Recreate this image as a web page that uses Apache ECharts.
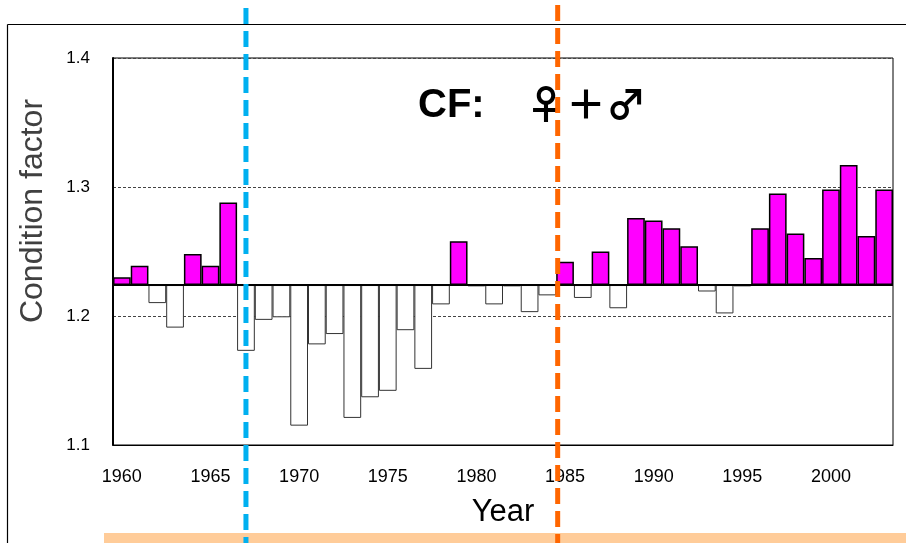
<!DOCTYPE html>
<html><head><meta charset="utf-8">
<script src="https://cdn.jsdelivr.net/npm/echarts@6/dist/echarts.min.js"></script>
<style>html,body{margin:0;padding:0;background:#fff}#c{width:906px;height:543px}</style>
</head><body><div id="c"></div>
<script>
const years = ['1960','1961','1962','1963','1964','1965','1966','1967','1968','1969',
  '1970','1971','1972','1973','1974','1975','1976','1977','1978','1979',
  '1980','1981','1982','1983','1984','1985','1986','1987','1988','1989',
  '1990','1991','1992','1993','1994','1995','1996','1997','1998','1999',
  '2000','2001','2002','2003'];
const conditionFactor = [1.230,1.239,1.210,1.191,1.248,1.239,1.288,1.173,1.197,1.199,
  1.115,1.178,1.186,1.121,1.137,1.142,1.189,1.159,1.209,1.258,
  1.223,1.209,1.223,1.203,1.216,1.242,1.214,1.250,1.206,1.276,
  1.274,1.268,1.254,1.219,1.202,1.223,1.268,1.295,1.264,1.245,
  1.298,1.317,1.262,1.298];
const baseline = 1.224;
const yTickValues = [1.1, 1.2, 1.3, 1.4];
const xTickLabels = ['1960','1965','1970','1975','1980','1985','1990','1995','2000'];
const blueMarkYear = '1967';
const orangeMarkYears = ['1984','1985'];

const baseData = conditionFactor.map(v => Math.min(v, baseline));
const deltaData = conditionFactor.map(v => {
  const pos = v >= baseline;
  return {
    value: Math.abs(v - baseline),
    itemStyle: pos
      ? {color: '#FF00FF', borderColor: '#000', borderWidth: 1.5}
      : {color: '#FFFFFF', borderColor: '#333', borderWidth: 1}
  };
});

const chart = echarts.init(document.getElementById('c'), null, {renderer: 'canvas'});
const FONT = "'Liberation Sans', Arial, sans-serif";
chart.setOption({
  animation: false,
  backgroundColor: '#fff',
  grid: {left: 113, right: 13, top: 58, bottom: 98, show: true, borderColor: '#000', borderWidth: 1, backgroundColor: 'transparent'},
  xAxis: {
    type: 'category', data: years, boundaryGap: true,
    axisLine: {show: true, lineStyle: {color: '#000', width: 1}},
    axisTick: {show: false},
    axisLabel: {
      interval: 0, margin: 23, color: '#000', fontFamily: FONT, fontSize: 18,
      formatter: v => xTickLabels.includes(v) ? v : ''
    },
    name: 'Year', nameLocation: 'middle', nameGap: 52,
    nameTextStyle: {fontFamily: FONT, fontSize: 31, color: '#000'}
  },
  yAxis: {
    type: 'value', min: 1.1, max: 1.4, interval: 0.1,
    axisLine: {show: true, lineStyle: {color: '#000', width: 2}},
    axisTick: {show: false},
    axisLabel: {
      margin: 23, color: '#000', fontFamily: FONT, fontSize: 17,
      formatter: v => {
        const t = yTickValues.find(x => Math.abs(x - v) < 1e-6);
        return t !== undefined ? t.toFixed(1) : '';
      }
    },
    splitLine: {show: true, lineStyle: {color: '#444', width: 1, type: [3, 2]}}
  },
  series: [
    {
      type: 'bar', stack: 'cf', data: baseData, barWidth: '100%', barCategoryGap: '0%',
      itemStyle: {color: 'rgba(0,0,0,0)'}, silent: true
    },
    {
      type: 'bar', stack: 'cf', data: deltaData, barWidth: '100%', barCategoryGap: '0%', z: 2
    }
  ]
});

const bx = chart.convertToPixel({xAxisIndex: 0}, blueMarkYear);
const o1 = chart.convertToPixel({xAxisIndex: 0}, orangeMarkYears[0]);
const o2 = chart.convertToPixel({xAxisIndex: 0}, orangeMarkYears[1]);
const ox = (o1 + o2) / 2 + 1.5;
const gx0 = chart.convertToPixel({xAxisIndex: 0}, years[0]);
const gx1 = chart.convertToPixel({xAxisIndex: 0}, years[years.length - 1]);
const half = (gx1 - gx0) / (years.length - 1) / 2;
const by = chart.convertToPixel({yAxisIndex: 0}, baseline);

chart.setOption({
  graphic: [
    {type: 'line', shape: {x1: 7.5, y1: 24.5, x2: 906, y2: 24.5}, style: {stroke: '#000', lineWidth: 1.2}, z: 1},
    {type: 'line', shape: {x1: 7.5, y1: 24.5, x2: 7.5, y2: 543}, style: {stroke: '#000', lineWidth: 1.2}, z: 1},
    {type: 'rect', shape: {x: 104, y: 533, width: 802, height: 10}, style: {fill: '#FFCC99'}, z: 1},
    {type: 'line', shape: {x1: gx0 - half, y1: by, x2: gx1 + half, y2: by}, style: {stroke: '#000', lineWidth: 2}, z: 10},
    {type: 'text', x: 33, y: 211, rotation: Math.PI / 2,
      style: {text: 'Condition factor', font: "32px 'Liberation Sans', Arial, sans-serif", fill: '#404040', textAlign: 'center', textVerticalAlign: 'middle'}, z: 5},
    {type: 'text', x: 418, y: 106,
      style: {text: 'CF:', font: "bold 40px 'Liberation Sans', Arial, sans-serif", fill: '#000', textAlign: 'left', textVerticalAlign: 'middle'}, z: 5},
    {type: 'text', x: 526, y: 104,
      style: {text: '♀＋♂', font: "bold 40px 'Noto Sans CJK JP', 'DejaVu Sans', sans-serif", fill: '#000', textAlign: 'left', textVerticalAlign: 'middle'}, z: 5},
    {type: 'line', shape: {x1: bx, y1: 8, x2: bx, y2: 543}, style: {stroke: '#00B0F0', lineWidth: 5, lineDash: [16, 7]}, z: 20},
    {type: 'line', shape: {x1: ox, y1: 5, x2: ox, y2: 543}, style: {stroke: '#FF6600', lineWidth: 5, lineDash: [16, 7]}, z: 20}
  ]
});
</script></body></html>
